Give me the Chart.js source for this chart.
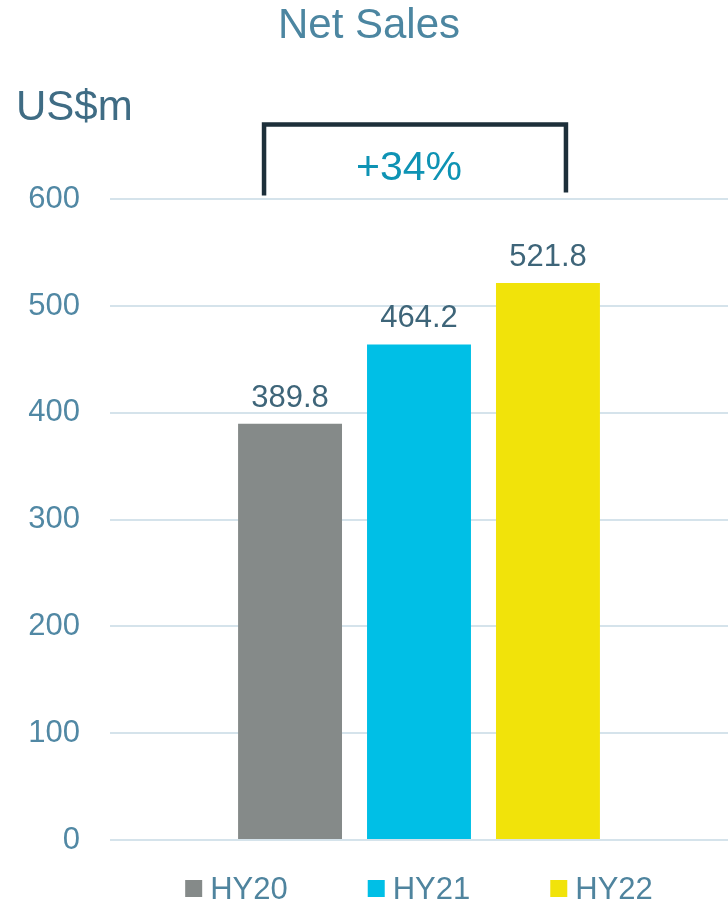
<!DOCTYPE html>
<html>
<head>
<meta charset="utf-8">
<script src="https://cdn.jsdelivr.net/npm/chart.js@4.4.1/dist/chart.umd.min.js"></script>
<style>
  html, body { margin: 0; padding: 0; background: #fff; }
  canvas { display: block; }
</style>
</head>
<body>
<canvas id="net-sales-chart" width="728" height="905"></canvas>
<script>
const periods = ["HY20", "HY21", "HY22"];
const netSales = [389.8, 464.2, 521.8];
const yMax = 600;
const yStep = 100;
const unitLabel = "US$m";

const barColors = ["#858a89", "#00bfe6", "#f1e30a"];
const FONT = "'Liberation Sans', Arial, sans-serif";

// +34% from first to last half year
const growth = Math.round((netSales[netSales.length - 1] / netSales[0] - 1) * 100);

const annotations = {
  id: "annotations",
  afterDatasetsDraw(chart) {
    const ctx = chart.ctx;
    const area = chart.chartArea;
    const bars = chart.data.datasets.map((d, i) => chart.getDatasetMeta(i).data[0]);

    ctx.save();

    // value labels above bars
    ctx.font = "31px " + FONT;
    ctx.fillStyle = "#3e6579";
    ctx.textAlign = "center";
    ctx.textBaseline = "alphabetic";
    bars.forEach((bar, i) => {
      ctx.fillText(netSales[i].toFixed(1), bar.x, bar.y - 17);
    });

    // unit label
    ctx.font = "42px " + FONT;
    ctx.fillStyle = "#3f6c84";
    ctx.textAlign = "left";
    ctx.fillText(unitLabel, 16, area.top - 79);

    // growth bracket
    const left = bars[0].x - 26;
    const right = bars[bars.length - 1].x + 18;
    const top = area.top - 75;
    ctx.strokeStyle = "#1d2f3a";
    ctx.lineWidth = 4.5;
    ctx.beginPath();
    ctx.moveTo(left, area.top - 4);
    ctx.lineTo(left, top);
    ctx.lineTo(right, top);
    ctx.lineTo(right, area.top - 7);
    ctx.stroke();

    ctx.font = "41px " + FONT;
    ctx.fillStyle = "#0e93b4";
    ctx.textAlign = "center";
    ctx.fillText("+" + growth + "%", (left + right) / 2 - 6, area.top - 19);

    // legend
    ctx.font = "31px " + FONT;
    const box = 17, boxGap = 8, itemGap = 80;
    const widths = chart.data.datasets.map(d => box + boxGap + ctx.measureText(d.label).width);
    const total = widths.reduce((a, b) => a + b, 0) + itemGap * (widths.length - 1);
    let x = (area.left + area.right) / 2 - total / 2;
    const baseY = chart.height - 6;
    ctx.textAlign = "left";
    chart.data.datasets.forEach((d, i) => {
      ctx.fillStyle = d.backgroundColor;
      ctx.fillRect(x, baseY - 19, box, box);
      ctx.fillStyle = "#4f849e";
      ctx.fillText(d.label, x + box + boxGap, baseY);
      x += widths[i] + itemGap;
    });

    ctx.restore();
  }
};

new Chart(document.getElementById("net-sales-chart"), {
  type: "bar",
  data: {
    labels: [""],
    datasets: periods.map((p, i) => ({
      label: p,
      data: [netSales[i]],
      backgroundColor: barColors[i],
      borderWidth: 0,
      categoryPercentage: 0.626,
      barPercentage: 0.806,
    })),
  },
  options: {
    responsive: false,
    animation: false,
    layout: { padding: { left: 10, right: 0, top: 0, bottom: 65 } },
    plugins: {
      legend: { display: false },
      tooltip: { enabled: false },
      title: {
        display: true,
        text: "Net Sales",
        color: "#4c86a1",
        font: { family: FONT, size: 42, weight: "normal" },
        padding: { top: 1, bottom: 148 },
      },
    },
    scales: {
      x: { display: false },
      y: {
        min: 0,
        max: yMax,
        afterFit(scale) { scale.width = 100; },
        border: { display: false },
        grid: { color: "#d5e3eb", lineWidth: 2, drawTicks: false },
        ticks: {
          stepSize: yStep,
          padding: 30,
          color: "#5188a4",
          font: { family: FONT, size: 31 },
        },
      },
    },
  },
  plugins: [annotations],
});
</script>
</body>
</html>
